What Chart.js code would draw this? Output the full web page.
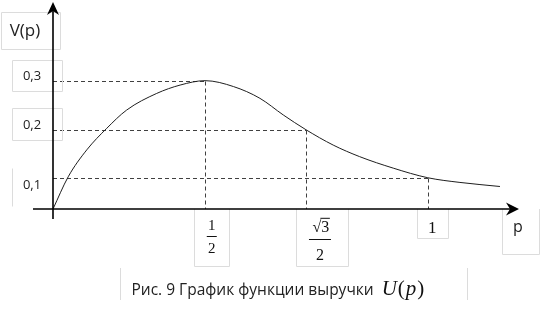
<!DOCTYPE html>
<html lang="ru">
<head>
<meta charset="UTF-8" />
<title>График функции выручки</title>
<script src="https://cdn.jsdelivr.net/npm/chart.js"></script>
<style>
  body { margin: 0; background: #fff; }
  canvas { display: block; }
</style>
</head>
<body>
<canvas id="chart" width="541" height="311"></canvas>
<script>
// U(p) curve
const pValues = [0, 0.050, 0.111, 0.177, 0.242, 0.341, 0.418, 0.5, 0.603, 0.699, 0.784, 0.866, 0.896, 0.925, 0.962, 1, 1.107, 1.24];
const vValues = [0, 0.102, 0.158, 0.203, 0.240, 0.274, 0.291, 0.3, 0.288, 0.264, 0.230, 0.2, 0.168, 0.144, 0.120, 0.1, 0.085, 0.072];

const xTicks = [0.5, Math.sqrt(3) / 2, 1];
const xTickLabels = [['1', '2'], ['√3', '2'], ['1']];
const yTicks = [0.1, 0.2, 0.3];
const yTickLabels = ['0,1', '0,2', '0,3'];

// dashed guides go from (p, V(p)) to both axes
const guideP = [0.5, Math.sqrt(3) / 2, 1];
const guideV = [0.3, 0.2, 0.1];

const xMax = 1.3;
const yMax = 0.45;
const xTitle = 'p';
const yTitle = 'V(p)';
const captionText = 'Рис. 9 График функции выручки ';
// math part: [text, italic?]
const captionMath = [['U', true], ['(', false], ['p', true], [')', false]];

// the original sketch is not drawn to scale, so each axis is piecewise linear
const scaleKnots = {
  x: { values: [0, ...xTicks, xMax], fractions: [0, 0.327, 0.544, 0.806, 1] },
  y: { values: [0, ...yTicks, yMax], fractions: [0, 0.151, 0.383, 0.620, 1] }
};

function interp(xs, ys, v) {
  let i = 1;
  while (i < xs.length - 1 && v > xs[i]) i++;
  const t = (v - xs[i - 1]) / (xs[i] - xs[i - 1]);
  return ys[i - 1] + t * (ys[i] - ys[i - 1]);
}

class SketchScale extends Chart.LinearScale {
  getPixelForValue(value) {
    if (value === null || value === undefined) return NaN;
    const k = scaleKnots[this.axis];
    return this.getPixelForDecimal(interp(k.values, k.fractions, value));
  }
  getValueForPixel(pixel) {
    const k = scaleKnots[this.axis];
    return interp(k.fractions, k.values, this.getDecimalForPixel(pixel));
  }
}
SketchScale.id = 'sketch';
SketchScale.defaults = Chart.LinearScale.defaults;
Chart.register(SketchScale);

const sans = '"Open Sans", "DejaVu Sans", sans-serif';
const serif = '"Liberation Serif", "DejaVu Serif", serif';
const boxColor = '#dcdcdc';

// label boxes, offsets from the tick pixel
const yLabelLayout = [
  { base: 11.6, box: [-9.7, 28.3], sides: 'l' },
  { base: -0.4, box: [-21.7, 10.3], sides: 'lrtb' },
  { base: -0.7, box: [-20.7, 10.3], sides: 'lrtb' }
];
const xLabelLayout = [
  { dx: 6.7, box: [-10.7, 23.7, 57], size: 15, num: 21, bar: 27, den: 44.3, barW: 10 },
  { dx: 14, box: [-10.3, 42.3, 57], size: 16, num: 23.3, bar: 30, den: 51, barW: 22 },
  { dx: 4.5, box: [-10.7, 20.7, 29], size: 17, num: 23.7 }
];

function box(ctx, l, t, r, b, sides) {
  ctx.beginPath();
  if (sides.includes('l')) { ctx.moveTo(l, t); ctx.lineTo(l, b); }
  if (sides.includes('r')) { ctx.moveTo(r, t); ctx.lineTo(r, b); }
  if (sides.includes('t')) { ctx.moveTo(l, t); ctx.lineTo(r, t); }
  if (sides.includes('b')) { ctx.moveTo(l, b); ctx.lineTo(r, b); }
  ctx.stroke();
}

function arrow(ctx, tipX, tipY, dir) {
  // dir: 'up' or 'right'
  ctx.beginPath();
  if (dir === 'up') {
    ctx.moveTo(tipX, tipY);
    ctx.lineTo(tipX + 6, tipY + 13);
    ctx.lineTo(tipX, tipY + 9);
    ctx.lineTo(tipX - 6, tipY + 13);
  } else {
    ctx.moveTo(tipX, tipY);
    ctx.lineTo(tipX - 13, tipY - 6.5);
    ctx.lineTo(tipX - 9, tipY);
    ctx.lineTo(tipX - 13, tipY + 6.5);
  }
  ctx.closePath();
  ctx.fill();
}

const sketchPlugin = {
  id: 'sketchDecor',
  beforeDatasetsDraw(chart) {
    const { ctx, scales: { x, y } } = chart;
    const x0 = x.getPixelForValue(0);
    const y0 = y.getPixelForValue(0);
    ctx.save();
    ctx.strokeStyle = '#404040';
    ctx.lineWidth = 1;
    ctx.setLineDash([4, 3]);
    guideP.forEach((p, i) => {
      const px = Math.round(x.getPixelForValue(p)) + 0.5;
      const py = Math.round(y.getPixelForValue(guideV[i])) + 0.5;
      ctx.beginPath();
      ctx.moveTo(x0, py);
      ctx.lineTo(px, py);
      ctx.stroke();
      ctx.beginPath();
      ctx.moveTo(px, py);
      ctx.lineTo(px, y0);
      ctx.stroke();
    });
    ctx.restore();
  },
  afterDraw(chart) {
    const { ctx, chartArea: a, scales: { x, y } } = chart;
    const x0 = x.getPixelForValue(0);
    const y0 = y.getPixelForValue(0);
    ctx.save();

    // faint text boxes
    ctx.strokeStyle = boxColor;
    ctx.lineWidth = 1;
    box(ctx, 1.5, 12.5, 60.5, 49.5, 'lrtb');
    yTicks.forEach((v, i) => {
      const py = y.getPixelForValue(v);
      const L = yLabelLayout[i];
      box(ctx, 12.5, Math.round(py + L.box[0]) + 0.5, 62.5, Math.round(py + L.box[1]) + 0.5, L.sides);
    });
    xTicks.forEach((v, i) => {
      const px = x.getPixelForValue(v);
      const L = xLabelLayout[i];
      box(ctx, Math.round(px + L.box[0]) + 0.5, y0, Math.round(px + L.box[1]) + 0.5, Math.round(y0 + L.box[2]) + 0.5, 'lrb');
    });
    box(ctx, 502.5, y0, 539.5, 254.5, 'lrb');
    box(ctx, 120.5, 268, 467.5, 300, 'lr');

    // y labels
    ctx.fillStyle = '#222';
    ctx.textAlign = 'center';
    ctx.textBaseline = 'alphabetic';
    ctx.font = '13px ' + sans;
    yTicks.forEach((v, i) => {
      const py = y.getPixelForValue(v);
      ctx.fillText(yTickLabels[i], 32, py + yLabelLayout[i].base);
    });
    ctx.font = '17px ' + sans;
    ctx.fillText(yTitle, 25, 36);
    ctx.font = '16px ' + sans;
    ctx.fillText(xTitle, 518, 231.5);

    // x labels (fractions in math serif)
    ctx.fillStyle = '#111';
    xTicks.forEach((v, i) => {
      const L = xLabelLayout[i];
      const cx = x.getPixelForValue(v) + L.dx;
      const lab = xTickLabels[i];
      ctx.font = L.size + 'px ' + serif;
      ctx.textAlign = 'center';
      if (lab.length === 1) {
        ctx.fillText(lab[0], cx, y0 + L.num);
        return;
      }
      if (lab[0].startsWith('√')) {
        const rest = lab[0].slice(1);
        const wr = ctx.measureText('√').width;
        const wd = ctx.measureText(rest).width;
        const sx = cx - (wr + wd) / 2 + 1;
        ctx.textAlign = 'left';
        ctx.fillText('√', sx, y0 + L.num);
        ctx.fillText(rest, sx + wr, y0 + L.num);
        ctx.fillRect(sx + wr - 1, y0 + L.num - 14.5, wd + 1.5, 1);
        ctx.textAlign = 'center';
      } else {
        ctx.fillText(lab[0], cx, y0 + L.num);
      }
      ctx.fillRect(cx - L.barW / 2, y0 + L.bar, L.barW, 1);
      ctx.fillText(lab[1], cx, y0 + L.den);
    });

    // caption
    ctx.textAlign = 'left';
    ctx.fillStyle = '#222';
    ctx.font = '15.5px ' + sans;
    ctx.fillText(captionText, 131.5, 295);
    let cx = 131.5 + ctx.measureText(captionText).width + 4;
    ctx.fillStyle = '#111';
    captionMath.forEach(([t, it]) => {
      ctx.font = (it ? 'italic 21px ' : '21px ') + serif;
      ctx.fillText(t, cx, 295);
      cx += ctx.measureText(t).width + 1;
    });

    // axes with arrows
    ctx.strokeStyle = '#000';
    ctx.fillStyle = '#000';
    ctx.lineWidth = 1.6;
    ctx.beginPath();
    ctx.moveTo(x0, y0 + 10);
    ctx.lineTo(x0, a.top + 6);
    ctx.moveTo(x0 - 20, y0);
    ctx.lineTo(a.right - 6, y0);
    ctx.stroke();
    arrow(ctx, x0, a.top, 'up');
    arrow(ctx, a.right + 1, y0, 'right');
    ctx.restore();
  }
};

new Chart(document.getElementById('chart'), {
  type: 'line',
  data: {
    datasets: [{
      data: pValues.map((p, i) => ({ x: p, y: vValues[i] })),
      borderColor: '#1e1e1e',
      borderWidth: 1,
      pointRadius: 0,
      cubicInterpolationMode: 'monotone',
      clip: false
    }]
  },
  options: {
    responsive: false,
    animation: false,
    layout: { padding: { left: 53, top: 2, right: 23, bottom: 102 } },
    plugins: { legend: { display: false }, tooltip: { enabled: false } },
    scales: {
      x: { type: 'sketch', min: 0, max: xMax, display: false },
      y: { type: 'sketch', min: 0, max: yMax, display: false }
    }
  },
  plugins: [sketchPlugin]
});
</script>
</body>
</html>
